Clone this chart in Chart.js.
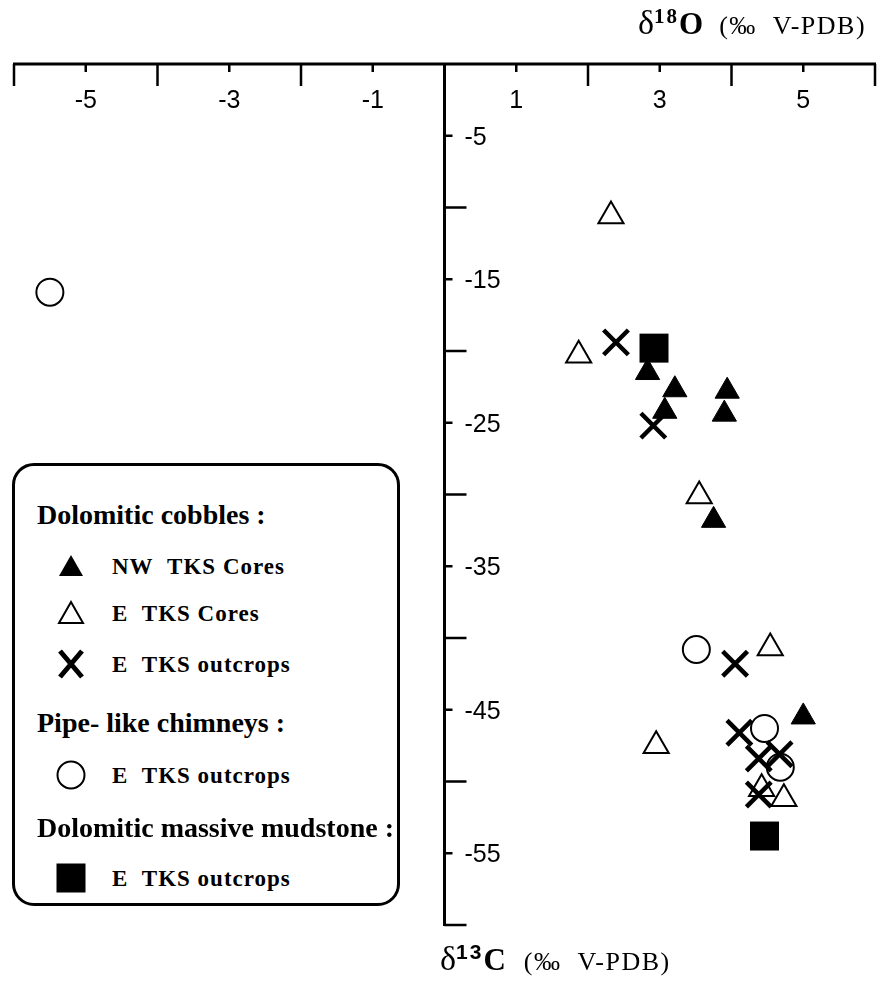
<!DOCTYPE html>
<html>
<head>
<meta charset="utf-8">
<script src="https://cdn.jsdelivr.net/npm/chart.js@4.4.1/dist/chart.umd.min.js"></script>
<style>
html, body { margin: 0; padding: 0; background: #fff; }
#wrap { position: relative; width: 880px; height: 986px; overflow: hidden; }
#chart { position: absolute; left: 0; top: 0; }
.axt { position: absolute; font-family: "Liberation Serif", "Times New Roman", serif; color: #000; white-space: nowrap; line-height: 1; }
.axt .d { font-size: 34px; }
.axt sup { font-size: 21px; font-weight: bold; vertical-align: 11px; letter-spacing: 2px; }
.axt b { font-size: 31px; }
.axt .u { font-size: 26px; letter-spacing: 1.5px; margin-left: 16px; }
#legend { position: absolute; left: 12px; top: 463px; width: 382px; height: 437px; border: 3px solid #000; border-radius: 22px; background: #fff; font-family: "Liberation Serif", "Times New Roman", serif; font-weight: bold; color: #000; }
#legend .h { position: absolute; left: 22px; font-size: 28px; line-height: 1; white-space: nowrap; }
#legend .it { position: absolute; left: 97px; font-size: 23px; line-height: 1; letter-spacing: 1px; white-space: nowrap; }
#legend svg { position: absolute; }
</style>
</head>
<body>
<div id="wrap">
  <canvas id="chart" width="880" height="986"></canvas>
  <div class="axt" style="left:638px; top:6px;"><span class="d">δ</span><sup>18</sup><b>O</b><span class="u">(‰&nbsp;&nbsp;V-PDB)</span></div>
  <div class="axt" style="left:440px; top:941px;"><span class="d">δ</span><sup style="font-family:'Liberation Sans',Arial,sans-serif">13</sup><b>C</b><span class="u" style="margin-left:18px">(‰&nbsp;&nbsp;V-PDB)</span></div>
  <div id="legend"></div>
</div>
<script>
// axis ranges and ticks
var xMin = -6, xMax = 6;
var yMin = -60, yMax = 0;
var xLongTicks = [-6, -4, -2, 0, 2, 4, 6];
var xShortTicks = [-5, -3, -1, 1, 3, 5];
var yLongTicks = [-10, -20, -30, -40, -50, -60];
var yShortTicks = [-5, -15, -25, -35, -45, -55];

// Dolomitic cobbles, NW TKS cores (filled triangles)
var nwCoresX = [2.83, 3.21, 3.94, 3.07, 3.90, 3.75, 5.00];
var nwCoresY = [-21.5, -22.7, -22.8, -24.2, -24.4, -31.8, -45.5];
// Dolomitic cobbles, E TKS cores (open triangles)
var eCoresX = [2.32, 1.87, 3.55, 4.54, 2.95, 4.42, 4.73];
var eCoresY = [-10.6, -20.3, -30.1, -40.7, -47.5, -50.5, -51.2];
// Dolomitic cobbles, E TKS outcrops (X)
var eOutcropsX = [2.39, 2.91, 4.05, 4.11, 4.38, 4.67, 4.38];
var eOutcropsY = [-19.4, -25.2, -41.8, -46.6, -48.4, -48.1, -50.9];
// Pipe-like chimneys, E TKS outcrops (open circles)
var chimneysX = [-5.50, 3.51, 4.46, 4.68];
var chimneysY = [-15.9, -40.8, -46.3, -49.0];
// Dolomitic massive mudstone, E TKS outcrops (filled squares)
var mudstoneX = [2.92, 4.46];
var mudstoneY = [-19.8, -53.8];

function toPoints(xs, ys) {
    return xs.map(function (v, i) { return { x: v, y: ys[i] }; });
}

// axes crossing at x = 0, drawn from the chart scales
var crossAxes = {
    id: 'crossAxes',
    beforeDatasetsDraw: function (chart) {
        var ctx = chart.ctx;
        var x = chart.scales.x;
        var y = chart.scales.y;
        var top = y.getPixelForValue(yMax);
        var bottom = y.getPixelForValue(yMin);
        var x0 = x.getPixelForValue(0);

        ctx.save();
        ctx.strokeStyle = '#000';
        ctx.lineWidth = 3;
        ctx.beginPath();
        ctx.moveTo(x.getPixelForValue(xMin) - 1, top);
        ctx.lineTo(x.getPixelForValue(xMax) + 1, top);
        ctx.moveTo(x0, top);
        ctx.lineTo(x0, bottom + 1);
        ctx.stroke();

        ctx.lineWidth = 2.5;
        ctx.beginPath();
        xLongTicks.forEach(function (v) {
            var p = x.getPixelForValue(v);
            ctx.moveTo(p, top);
            ctx.lineTo(p, top + 22);
        });
        xShortTicks.forEach(function (v) {
            var p = x.getPixelForValue(v);
            ctx.moveTo(p, top);
            ctx.lineTo(p, top + 8);
        });
        yLongTicks.forEach(function (v) {
            var p = y.getPixelForValue(v);
            ctx.moveTo(x0, p);
            ctx.lineTo(x0 + 22, p);
        });
        yShortTicks.forEach(function (v) {
            var p = y.getPixelForValue(v);
            ctx.moveTo(x0, p);
            ctx.lineTo(x0 + 8, p);
        });
        ctx.stroke();

        ctx.fillStyle = '#000';
        ctx.font = '25px "Liberation Sans", Arial, sans-serif';
        ctx.textAlign = 'center';
        ctx.textBaseline = 'middle';
        xShortTicks.forEach(function (v) {
            ctx.fillText(String(v), x.getPixelForValue(v), top + 37);
        });
        ctx.textAlign = 'left';
        yShortTicks.forEach(function (v) {
            ctx.fillText(String(v), x0 + 20, y.getPixelForValue(v) + 2);
        });
        ctx.restore();
    }
};

var chart = new Chart(document.getElementById('chart').getContext('2d'), {
    type: 'scatter',
    data: {
        datasets: [{
            label: 'NW TKS Cores',
            data: toPoints(nwCoresX, nwCoresY),
            pointStyle: 'triangle',
            pointRadius: 14,
            backgroundColor: '#000',
            borderColor: '#000',
            borderWidth: 1
        }, {
            label: 'E TKS Cores',
            data: toPoints(eCoresX, eCoresY),
            pointStyle: 'triangle',
            pointRadius: 14.5,
            backgroundColor: 'rgba(0,0,0,0)',
            borderColor: '#000',
            borderWidth: 2
        }, {
            label: 'E TKS outcrops',
            data: toPoints(eOutcropsX, eOutcropsY),
            pointStyle: 'crossRot',
            pointRadius: 17.5,
            borderColor: '#000',
            borderWidth: 4.5
        }, {
            label: 'Pipe-like chimneys, E TKS outcrops',
            data: toPoints(chimneysX, chimneysY),
            pointStyle: 'circle',
            pointRadius: 13.5,
            backgroundColor: 'rgba(0,0,0,0)',
            borderColor: '#000',
            borderWidth: 2
        }, {
            label: 'Dolomitic massive mudstone, E TKS outcrops',
            data: toPoints(mudstoneX, mudstoneY),
            pointStyle: 'rect',
            pointRadius: 20.5,
            backgroundColor: '#000',
            borderColor: '#000',
            borderWidth: 0
        }]
    },
    options: {
        responsive: false,
        animation: false,
        layout: { autoPadding: false, padding: { left: 14, right: 5, top: 64, bottom: 61 } },
        scales: {
            x: { type: 'linear', min: xMin, max: xMax, display: false },
            y: { type: 'linear', min: yMin, max: yMax, display: false }
        },
        elements: { point: { hoverRadius: 0 } },
        datasets: { scatter: { clip: false } },
        plugins: {
            legend: { display: false },
            tooltip: { enabled: false }
        }
    },
    plugins: [crossAxes]
});

// grouped legend in the lower left
var triFilled = '<svg width="30" height="28" viewBox="0 0 30 28"><polygon points="15,3 27,24 3,24" fill="#000"/></svg>';
var triOpen = '<svg width="30" height="28" viewBox="0 0 30 28"><polygon points="15,3 27,24 3,24" fill="none" stroke="#000" stroke-width="2"/></svg>';
var crossMark = '<svg width="30" height="32" viewBox="0 0 30 32"><path d="M4,3 L26,29 M26,3 L4,29" stroke="#000" stroke-width="5"/></svg>';
var circleMark = '<svg width="32" height="32" viewBox="0 0 32 32"><circle cx="16" cy="16" r="13.5" fill="none" stroke="#000" stroke-width="2"/></svg>';
var squareMark = '<svg width="32" height="32" viewBox="0 0 32 32"><rect x="1.5" y="1.5" width="29" height="29" fill="#000"/></svg>';

var legendRows = [
    { kind: 'h', text: 'Dolomitic cobbles :', cy: 515 },
    { kind: 'it', text: 'NW&nbsp;&nbsp;TKS Cores', cy: 566, mark: triFilled, mw: 30, mh: 28 },
    { kind: 'it', text: 'E&nbsp;&nbsp;TKS Cores', cy: 613, mark: triOpen, mw: 30, mh: 28 },
    { kind: 'it', text: 'E&nbsp;&nbsp;TKS outcrops', cy: 664, mark: crossMark, mw: 30, mh: 32 },
    { kind: 'h', text: 'Pipe- like chimneys :', cy: 723 },
    { kind: 'it', text: 'E&nbsp;&nbsp;TKS outcrops', cy: 775, mark: circleMark, mw: 32, mh: 32 },
    { kind: 'h', text: 'Dolomitic massive mudstone :', cy: 828 },
    { kind: 'it', text: 'E&nbsp;&nbsp;TKS outcrops', cy: 878, mark: squareMark, mw: 32, mh: 32 }
];

var legendEl = document.getElementById('legend');
var legendTop = 466; // inner top of the box
legendRows.forEach(function (row) {
    var fs = row.kind === 'h' ? 28 : 23;
    var t = document.createElement('div');
    t.className = row.kind;
    t.innerHTML = row.text;
    t.style.top = (row.cy - legendTop - fs * 0.5) + 'px';
    legendEl.appendChild(t);
    if (row.mark) {
        var m = document.createElement('div');
        m.innerHTML = row.mark;
        var svg = m.firstChild;
        svg.style.left = (71 - 15 - row.mw / 2) + 'px';
        svg.style.top = (row.cy - legendTop - row.mh / 2) + 'px';
        legendEl.appendChild(svg);
    }
});
</script>
</body>
</html>
